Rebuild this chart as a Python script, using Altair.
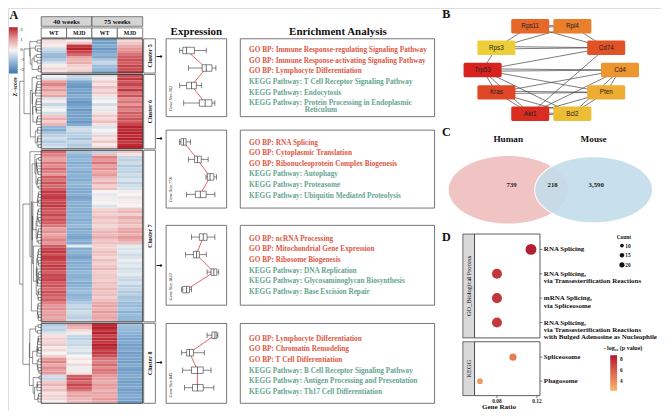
import altair as alt
import numpy as np
import pandas as pd

# ============================ DATA ============================
CONDITIONS = ["WT 40 weeks", "MJD 40 weeks", "WT 75 weeks", "MJD 75 weeks"]
AGES = ["40 weeks", "75 weeks"]
GENOTYPES = ["WT", "MJD", "WT", "MJD"]
CLUSTER_NAMES = ["Cluster 5", "Cluster 6", "Cluster 7", "Cluster 8"]
GENE_SIZES = [362, 778, 1823, 845]
Z_TICKS = [2, 1, 0, -1, -2]

# heatmap z-scores, one list per cluster and column (WT40, MJD40, WT75, MJD75)
c5_wt40 = [0.3, 0.2, 0.1, -0.4, -0.6, -0.9, -1.0, -0.7, -0.3, 0.1, 0.3, 0.2]
c5_mjd40 = [0.1, 0.5, 1.8, 2.0, 1.7, 1.4, 0.9, 0.7, 0.8, 0.4, 0.3, 0.5]
c5_wt75 = [-1.3, -1.4, -1.2, -1.5, -1.3, -1.1, -1.2, -0.7, -0.5, -0.9, -1.0, -1.2]
c5_mjd75 = [0.3, 0.5, 0.8, 1.0, 1.1, 1.3, 1.5, 1.6, 1.5, 1.7, 1.6, 1.8]

c6_wt40 = [0.0, -0.3, 0.9, 1.2, 0.8, 1.0, 0.6, 0.9, -0.3, 0.1, -0.5, -0.2, 0.0,
           -0.4, 0.5, 0.8, 0.4, 0.7, -1.0, -1.2, -0.8, -0.6, -0.4, -0.7, -0.5, -0.3]
c6_mjd40 = [-0.5, -0.6, -1.2, -1.4, -1.5, -1.3, -1.4, -1.2, -1.3, -1.5, -1.4, -1.2, -1.5,
            -1.3, -1.4, -1.3, -1.5, -1.2, -0.5, -0.4, -0.6, -0.6, -0.8, -0.5, -0.7, -0.6]
c6_wt75 = [-0.3, 0.1, 0.4, 0.2, 0.6, 0.3, 0.5, 0.2, -0.2, 0.0, -0.4, 0.1, -0.2,
           0.2, 0.5, 0.3, 0.6, 0.2, -0.3, 0.0, -0.2, 0.4, 0.2, 0.5, 0.1, 0.3]
c6_mjd75 = [1.6, 1.8, 1.5, 1.7, 1.4, 1.8, 1.3, 1.6, 1.1, 1.3, 1.0, 1.4, 1.2,
            1.5, 1.4, 1.6, 1.5, 1.7, 2.0, 1.9, 2.0, 1.9, 2.0, 1.8, 1.9, 2.0]

c7_wt40 = [1.4, 1.2, 1.0, 0.9, 1.3, 1.1, 1.4, 1.2, 1.0, 1.5, 1.3, 1.6, 1.4, 1.5,
           1.8, 1.7, 1.8, 1.6, 1.7, 1.8, 1.6, 1.5, 1.7, 1.4, 1.6, 1.5, 1.3,
           0.9, 1.1, 0.8, 1.0, 1.2, 1.0, 1.5, 1.7, 1.8, 1.6, 1.8, 1.7, 1.6, 1.8, 1.7, 1.5, 1.7,
           1.6, 1.7, 1.5, 1.6, 1.4, 1.6, 1.5, 1.3, 1.5, 1.2, 1.0, 1.1, 0.9, 1.0, 0.8, 0.9]
c7_mjd40 = [-0.8, -1.0, -1.1, -1.0, -1.2, -1.1, -1.0, -1.2, -1.1, -1.1, -1.2, -1.0, -1.1, -1.2,
            -1.2, -1.1, -1.3, -1.2, -1.1, -1.2, -1.1, -1.2, -1.1, -1.0, -1.2, -1.1, -1.0,
            -1.2, -1.1, -1.2, -1.3, -1.1, -1.2, -0.2, -1.2, -1.1, -1.2, -1.3, -1.1, -1.2, -1.1, -1.2, -1.0, -1.1,
            -1.1, -1.0, -1.2, -1.1, -1.0, -0.9, -1.1, -1.0, -0.9, -0.7, -0.5, -0.6, -0.4, -0.5, -0.6, -0.4]
c7_wt75 = [-0.6, 0.6, 1.2, 1.0, 1.3, 0.9, 1.1, 0.8, 1.0, 0.7, 0.5, 0.8, 0.4, 0.6,
           0.0, -0.2, 0.1, -0.1, 0.0, -0.3, 0.3, 0.5, 0.4, 0.6, 0.4, 0.5, 0.3,
           0.5, 0.7, 0.6, 0.8, 0.5, 0.6, 0.4, 0.4, 0.6, 0.5, 0.3, 0.6, 0.4, 0.5, 0.7, 0.4, 0.5,
           0.5, 0.4, 0.6, 0.5, 0.7, 0.5, 0.6, 0.4, 0.6, 0.8, 0.9, 0.7, 1.0, 0.8, 0.9, 0.7]
c7_mjd75 = [0.5, 0.2, -0.5, -0.6, -0.4, -0.7, -0.5, -0.6, -0.4, -0.5, -0.3, -0.6, -0.4, -0.3,
            0.1, 0.0, 0.2, -0.1, 0.1, 0.0, 0.5, 0.7, 0.4, 0.8, 0.6, 0.7, 0.5,
            0.8, 0.9, 0.7, 1.0, 0.8, 0.6, -0.2, -0.3, -0.2, -0.4, -0.3, -0.1, -0.3, -0.2, -0.4, -0.3, -0.2,
            -0.4, -0.5, -0.3, -0.6, -0.5, -0.7, -0.6, -0.8, -0.7, -0.9, -1.0, -0.8, -1.1, -0.9, -1.0, -1.0]

c8_wt40 = [-0.7, -0.5, -0.6, -0.3, 0.2, 0.4, 0.3, 0.5, 0.1, 0.3, 0.0, 0.4, 1.0, 1.2,
           0.8, 1.1, 0.9, 1.0, -0.4, -0.5, 0.5, 0.7, 0.4, 0.6, 0.2, 0.4, 0.3, 0.1]
c8_mjd40 = [0.9, 0.7, 0.3, 0.1, -0.5, -0.6, -0.4, -0.5, -0.3, -0.2, -0.4, 0.0, 0.2, 0.0,
            0.3, -0.1, 0.1, 0.2, 1.5, 1.6, 1.4, 1.7, 1.5, 1.3, 0.8, 0.9, 0.7, 0.6]
c8_wt75 = [1.9, 2.0, 1.8, 2.0, 1.7, 1.9, 1.8, 2.0, 1.9, 1.7, 1.8, 1.6, 1.3, 1.2,
           1.4, 1.1, 1.3, 1.2, 1.0, 0.9, 0.8, 1.0, 0.9, 0.7, 0.9, 0.8, 1.0, 0.8]
c8_mjd75 = [-0.8, -0.9, -1.0, -1.1, -1.2, -1.3, -1.2, -1.4, -1.3, -1.2, -1.4, -1.3, -1.3, -1.4,
            -1.2, -1.3, -1.4, -1.3, -1.2, -1.3, -1.4, -1.3, -1.2, -1.4, -1.3, -1.2, -1.3, -1.4]

# dendrogram merge heights of the four cluster trees (relative)
DEND_MERGE_56 = 0.80
DEND_MERGE_78 = 0.85
DEND_ROOT = 1.0

# expression boxplots: (min, q1, median, q3, max) per condition
expr_c5 = [(-1.29, -1.06, -0.76, -0.15, 0.76), (-0.60, 0.45, 0.76, 1.21, 1.52),
           (-1.29, -0.76, -0.38, 0.00, 0.38), (-0.98, 0.23, 0.68, 1.21, 1.44)]
expr_c6 = [(-1.30, -1.20, -1.00, -0.80, -0.45), (-0.60, -0.15, 0.08, 0.38, 0.91),
           (0.75, 0.85, 1.06, 1.36, 1.55), (-0.76, -0.08, 0.30, 0.76, 1.44)]
expr_c7 = [(-0.38, 0.23, 0.53, 0.83, 1.44), (-0.83, -0.23, 0.00, 0.23, 0.76),
           (0.83, 1.14, 1.36, 1.59, 1.74), (-1.14, -1.06, -0.76, -0.53, -0.38)]
expr_c8 = [(0.83, 1.21, 1.44, 1.59, 1.67), (-1.14, -0.76, -0.53, -0.23, 0.61),
           (-1.06, -0.38, 0.08, 0.53, 1.14), (-0.91, -0.30, 0.08, 0.53, 1.36)]

enrich_c5 = ["GO BP: Immune Response-regulating Signaling Pathway",
             "GO BP: Immune Response-activating Signaling Pathway",
             "GO BP: Lymphocyte Differentiation",
             "KEGG Pathway: T Cell Receptor Signaling Pathway",
             "KEGG Pathway: Endocytosis",
             "KEGG Pathway: Protein Processing in Endoplasmic\nReticulum"]
enrich_c6 = ["GO BP: RNA Splicing", "GO BP: Cytoplasmic Translation",
             "GO BP: Ribonucleoprotein Complex Biogenesis", "KEGG Pathway: Autophagy",
             "KEGG Pathway: Proteasome", "KEGG Pathway: Ubiquitin Mediated Proteolysis"]
enrich_c7 = ["GO BP: ncRNA Processing", "GO BP: Mitochondrial Gene Expression",
             "GO BP: Ribosome Biogenesis", "KEGG Pathway: DNA Replication",
             "KEGG Pathway: Glycosaminoglycan Biosynthesis", "KEGG Pathway: Base Excision Repair"]
enrich_c8 = ["GO BP: Lymphocyte Differentiation", "GO BP: Chromatin Remodeling",
             "GO BP: T Cell Differentiation", "KEGG Pathway: B Cell Receptor Signaling Pathway",
             "KEGG Pathway: Antigen Processing and Presentation",
             "KEGG Pathway: Th17 Cell Differentiation"]

# PPI network (circular layout coordinates, hub score)
net_nodes = ["Rps11", "Rpl4", "Rps3", "Cd74", "Trp53", "Cd4", "Kras", "Pten", "Akt1", "Bcl2"]
net_x = [-0.30, 0.31, -0.79, 0.80, -0.99, 1.00, -0.79, 0.80, -0.30, 0.31]
net_y = [1.00, 1.00, 0.51, 0.51, 0.00, 0.00, -0.51, -0.51, -1.00, -1.00]
net_score = [56, 46, 12, 66, 100, 38, 72, 28, 92, 20]
net_edges = [("Rps11", "Rpl4"), ("Rps11", "Rps3"), ("Rps3", "Rpl4"), ("Rps11", "Cd74"),
             ("Rpl4", "Cd74"), ("Rps3", "Cd74"), ("Rps3", "Trp53"), ("Trp53", "Cd74"),
             ("Trp53", "Cd4"), ("Trp53", "Pten"), ("Trp53", "Bcl2"), ("Trp53", "Kras"),
             ("Trp53", "Akt1"), ("Cd74", "Akt1"), ("Cd4", "Kras"), ("Cd4", "Pten"),
             ("Cd4", "Bcl2"), ("Cd4", "Akt1"), ("Kras", "Pten"), ("Kras", "Akt1"),
             ("Kras", "Bcl2"), ("Pten", "Akt1"), ("Pten", "Bcl2"), ("Akt1", "Bcl2")]
net_double = [("Rps11", "Rpl4"), ("Rps3", "Cd74"), ("Trp53", "Cd4"), ("Kras", "Pten"), ("Akt1", "Bcl2")]

# Venn
venn_sets = ["Human", "Mouse"]
venn_set_pos = [0.0, 1.0]
venn_counts = [739, 218, 3590]
venn_count_pos = [0.04, 0.52, 1.03]

# dot plot
go_terms = ["RNA Splicing",
            "RNA Splicing,\nvia Transesterification Reactions",
            "mRNA Splicing,\nvia Spliceosome",
            "RNA Splicing,\nvia Transesterification Reactions\nwith Bulged Adenosine as Nucleophile"]
go_ratio = [0.114, 0.080, 0.080, 0.080]
go_count = [21, 18, 18, 18]
go_logp = [8.3, 7.4, 7.4, 7.3]
kegg_terms = ["Spliceosome", "Phagosome"]
kegg_ratio = [0.096, 0.063]
kegg_count = [9, 6]
kegg_logp = [4.6, 3.4]
count_breaks = [10, 15, 20]
logp_breaks = [8, 6, 4]
ratio_breaks = [0.08, 0.12]

# ============================ STYLE / LAYOUT ============================
SERIF = "Liberation Serif"
SANS = "Liberation Sans"
SX = 653 / 669
SY = 403 / 419
FS = 0.97
INK = "#333333"
GO_RED = "#dc5846"
KEGG_GREEN = "#66a58f"
LINE_RED = "#e0403a"
HM_DOMAIN = [-2, -1, 0, 1, 2]
HM_RANGE = ["#3f76ad", "#93b8d8", "#f7f5f3", "#e7999a", "#b8202b"]


def X(v):
    return round(v * SX, 2)


def Y(v):
    return round(v * SY, 2)


def F(s):
    return round(s * FS, 2)


ONE = alt.Data(values=[{"k": 0}])


def lin(domain, rng):
    return alt.Scale(domain=domain, range=rng, nice=False, zero=False)


def box(x0, y0, x1, y1, fill="white", stroke="#444444", sw=0.7, fo=1.0):
    return alt.Chart(ONE).mark_rect(fill=fill, fillOpacity=fo, stroke=stroke, strokeWidth=sw).encode(
        x=alt.value(X(x0)), x2=alt.value(X(x1)), y=alt.value(Y(y0)), y2=alt.value(Y(y1)))


def label(text, x, y, size, weight="bold", font=SERIF, color="#111111", angle=0,
          align="center", style="normal"):
    return alt.Chart(ONE).mark_text(
        text=text, fontSize=F(size), font=font, fontWeight=weight, fontStyle=style,
        color=color, align=align, baseline="middle", angle=angle).encode(
        x=alt.value(X(x)), y=alt.value(Y(y)))


layers = []

# ============================ PANEL A: heatmap ============================
clusters = [
    (CLUSTER_NAMES[0], [c5_wt40, c5_mjd40, c5_wt75, c5_mjd75]),
    (CLUSTER_NAMES[1], [c6_wt40, c6_mjd40, c6_wt75, c6_mjd75]),
    (CLUSTER_NAMES[2], [c7_wt40, c7_mjd40, c7_wt75, c7_mjd75]),
    (CLUSTER_NAMES[3], [c8_wt40, c8_mjd40, c8_wt75, c8_mjd75]),
]


def dendro(mat, ys):
    nodes = [{"y": ys[i], "h": 0.0, "v": mat[i].copy(), "n": 1} for i in range(len(ys))]
    segs = []
    while len(nodes) > 1:
        d = [float(np.linalg.norm(nodes[k]["v"] - nodes[k + 1]["v"])) for k in range(len(nodes) - 1)]
        k = int(np.argmin(d))
        a, b = nodes[k], nodes[k + 1]
        h = max(a["h"], b["h"], d[k]) + 0.05
        segs.append((a["h"], h, a["y"], a["y"]))
        segs.append((b["h"], h, b["y"], b["y"]))
        segs.append((h, h, a["y"], b["y"]))
        n = a["n"] + b["n"]
        nodes[k:k + 2] = [{"y": (a["y"] + b["y"]) / 2, "h": h,
                           "v": (a["v"] * a["n"] + b["v"] * b["n"]) / n, "n": n}]
    return segs, nodes[0]


GAP = 0.5
hm_rows, cl_rows, roots, raw_segs = [], [], [], []
offset = 0.0
for name, cols in clusters:
    n = len(cols[0])
    mat = np.array(cols, dtype=float).T
    for i in range(n):
        for j in range(4):
            hm_rows.append({"r0": offset + i, "r1": offset + i + 1, "c0": j, "c1": j + 1, "z": cols[j][i]})
    segs, root = dendro(mat, [offset + i + 0.5 for i in range(n)])
    raw_segs.append(segs)
    roots.append(root)
    cl_rows.append({"name": name, "r0": offset, "r1": offset + n, "mid": offset + n / 2, "c0": 0, "c1": 4})
    offset += n + GAP
TOTAL = offset - GAP

hmax = max(r["h"] for r in roots)
s = 0.55 / hmax
dseg = []
for segs in raw_segs:
    for h0, h1, y0, y1 in segs:
        dseg.append({"h0": h0 * s, "h1": h1 * s, "y0": y0, "y1": y1})
nroots = [{"y": r["y"], "h": r["h"] * s} for r in roots]


def join(a, b, h):
    dseg.append({"h0": a["h"], "h1": h, "y0": a["y"], "y1": a["y"]})
    dseg.append({"h0": b["h"], "h1": h, "y0": b["y"], "y1": b["y"]})
    dseg.append({"h0": h, "h1": h, "y0": a["y"], "y1": b["y"]})
    return {"y": (a["y"] + b["y"]) / 2, "h": h}


n56 = join(nroots[0], nroots[1], DEND_MERGE_56)
n78 = join(nroots[2], nroots[3], DEND_MERGE_78)
join(n56, n78, DEND_ROOT)

hm_df = pd.DataFrame(hm_rows)
cl_df = pd.DataFrame(cl_rows)
dend_df = pd.DataFrame(dseg)
age_df = pd.DataFrame({"label": AGES, "c0": [2 * i for i in range(len(AGES))],
                       "c1": [2 * i + 2 for i in range(len(AGES))]})
geno_df = pd.DataFrame({"label": GENOTYPES, "c0": list(range(4)), "c1": list(range(1, 5))})

hx = lin([0, 4], [X(34), X(138)])
hy = lin([0, TOTAL], [Y(32), Y(411)])
HXq = lambda f: alt.X(f, scale=hx, axis=None)
HYq = lambda f: alt.Y(f, scale=hy, axis=None)

heat = alt.Chart(hm_df).mark_rect().encode(
    x=HXq("c0:Q"), x2="c1:Q", y=HYq("r0:Q"), y2="r1:Q",
    color=alt.Color("z:Q", scale=alt.Scale(domain=HM_DOMAIN, range=HM_RANGE, interpolate="rgb"),
                    legend=None))
cl_border = alt.Chart(cl_df).mark_rect(fill="white", fillOpacity=0, stroke="#222222", strokeWidth=0.8).encode(
    x=HXq("c0:Q"), x2="c1:Q", y=HYq("r0:Q"), y2="r1:Q")
cl_box = alt.Chart(cl_df).mark_rect(fill="white", stroke="#444444", strokeWidth=0.7).encode(
    x=alt.value(X(139)), x2=alt.value(X(151)), y=HYq("r0:Q"), y2="r1:Q")
cl_txt = alt.Chart(cl_df).mark_text(angle=270, font=SERIF, fontWeight="bold", fontSize=F(6.2),
                                    color="#111111", baseline="middle").encode(
    x=alt.value(X(145)), y=HYq("mid:Q"), text="name:N")
age_rect = alt.Chart(age_df).mark_rect(fill="#d4d4d4", stroke=INK, strokeWidth=0.6).encode(
    x=HXq("c0:Q"), x2="c1:Q", y=alt.value(Y(9)), y2=alt.value(Y(19)))
age_txt = alt.Chart(age_df).transform_calculate(mid="(datum.c0 + datum.c1) / 2").mark_text(
    font=SERIF, fontWeight="bold", fontSize=F(7.2), color="#111111", baseline="middle").encode(
    x=HXq("mid:Q"), y=alt.value(Y(14.2)), text="label:N")
geno_rect = alt.Chart(geno_df).mark_rect(fill="white", stroke=INK, strokeWidth=0.6).encode(
    x=HXq("c0:Q"), x2="c1:Q", y=alt.value(Y(20.7)), y2=alt.value(Y(31)))
geno_txt = alt.Chart(geno_df).transform_calculate(mid="(datum.c0 + datum.c1) / 2").mark_text(
    font=SERIF, fontWeight="bold", fontSize=F(6), color="#111111", baseline="middle").encode(
    x=HXq("mid:Q"), y=alt.value(Y(26)), text="label:N")
layers.append(alt.layer(heat, cl_border, cl_box, cl_txt, age_rect, age_txt, geno_rect, geno_txt))

dend = alt.Chart(dend_df).mark_rule(color="#111111", strokeWidth=0.45).encode(
    x=alt.X("h0:Q", scale=lin([0, 1], [X(34), X(12)]), axis=None), x2="h1:Q",
    y=HYq("y0:Q"), y2="y1:Q")
layers.append(dend)

# heatmap legend
grad = alt.LinearGradient(
    gradient="linear", x1=0, x2=0, y1=0, y2=1,
    stops=[alt.GradientStop(color=HM_RANGE[4 - i], offset=i / 4) for i in range(5)])
layers.append(alt.Chart(ONE).mark_rect(fill=grad).encode(
    x=alt.value(X(1)), x2=alt.value(X(10)), y=alt.value(Y(20)), y2=alt.value(Y(68))))
layers.append(alt.Chart(pd.DataFrame({"v": Z_TICKS})).mark_text(
    font=SERIF, fontSize=F(5), color="#222222", align="left", baseline="middle").encode(
    x=alt.value(X(12.5)), y=alt.Y("v:Q", scale=lin([-2, 2], [Y(64), Y(23)]), axis=None),
    text="v:N"))
layers.append(label("Z\u2212score", 7.5, 82, 5.8, angle=270))
layers.append(label("A", 6, 7.5, 12.5))

# ============================ Expression panels ============================
TOPS = [32, 127, 226, 328]
BOTS = [113, 208, 309, 411]
ARROW_Y = [51, 136, 268, 369]
exs = lin([-2.2, 2.2], [X(164), X(222)])


def expr_panel(stats, top, bot, gsize):
    df = pd.DataFrame(stats, columns=["lo", "q1", "med", "q3", "hi"])
    df["i"] = list(range(len(df)))
    df["cond"] = CONDITIONS
    ys = lin([0, 3], [Y(top + 7), Y(top + 72)])
    base = alt.Chart(df)
    xq = lambda f: alt.X(f + ":Q", scale=exs, axis=None)
    yq = alt.Y("i:Q", scale=ys, axis=None)
    frame = box(162, top, 224, bot, stroke="#555555", sw=0.8)
    line = base.mark_line(color=LINE_RED, strokeWidth=0.8).encode(x=xq("med"), y=yq, order="i:Q")
    whisk = base.mark_rule(color=INK, strokeWidth=0.6).encode(x=xq("lo"), x2="hi:Q", y=yq)
    cap_lo = base.mark_tick(orient="vertical", size=5.5, thickness=0.6, color=INK, opacity=1).encode(
        x=xq("lo"), y=yq)
    cap_hi = base.mark_tick(orient="vertical", size=5.5, thickness=0.6, color=INK, opacity=1).encode(
        x=xq("hi"), y=yq)
    bx = base.mark_bar(orient="horizontal", size=6.5, fill="white", stroke=INK, strokeWidth=0.6).encode(
        x=xq("q1"), x2="q3:Q", y=yq)
    md = base.mark_tick(orient="vertical", size=6.5, thickness=0.7, color=INK, opacity=1).encode(
        x=xq("med"), y=yq)
    gs = label(f"Gene Size {gsize}", 166.5, bot - 19, 4.5, weight="normal", style="italic", angle=270)
    return alt.layer(frame, line, whisk, cap_lo, cap_hi, bx, md, gs)


for stats, top, bot, g, ay in zip([expr_c5, expr_c6, expr_c7, expr_c8], TOPS, BOTS, GENE_SIZES, ARROW_Y):
    layers.append(expr_panel(stats, top, bot, g))
    layers.append(label("\u2192", 155, ay, 8, font="DejaVu Sans"))
layers.append(label("Expression", 193, 25, 11.3))

# ============================ Enrichment panels ============================
FIRST_LINE = [44, 140, 240, 344]


def enrich_panel(items, top, bot, first):
    rows = []
    for k, it in enumerate(items):
        kind = "GO" if it.startswith("GO") else "KEGG"
        parts = it.split("\n")
        rows.append({"slot": k, "text": parts[0], "kind": kind, "ind": 0})
        for p in parts[1:]:
            rows.append({"slot": k + 0.64, "text": p, "kind": kind, "ind": 1})
    df = pd.DataFrame(rows)
    txt = alt.Chart(df).mark_text(align="left", baseline="middle", font=SERIF, fontWeight="bold",
                                  fontSize=F(7.5)).encode(
        x=alt.X("ind:Q", scale=lin([0, 1], [X(247), X(304)]), axis=None),
        y=alt.Y("slot:Q", scale=lin([0, 5], [Y(first), Y(first + 55)]), axis=None),
        text="text:N",
        color=alt.Color("kind:N", scale=alt.Scale(domain=["GO", "KEGG"], range=[GO_RED, KEGG_GREEN]),
                        legend=None))
    return alt.layer(box(238, top, 437, bot, stroke="#555555", sw=0.8), txt)


for items, top, bot, first in zip([enrich_c5, enrich_c6, enrich_c7, enrich_c8], TOPS, BOTS, FIRST_LINE):
    layers.append(enrich_panel(items, top, bot, first))
layers.append(label("Enrichment Analysis", 338, 25, 11.3))

# ============================ PANEL B: network ============================
pos = dict(zip(net_nodes, zip(net_x, net_y)))
dbl = set(net_double)
edge_df = pd.DataFrame([{"x0": pos[a][0], "y0": pos[a][1], "x1": pos[b][0], "y1": pos[b][1],
                         "dbl": (a, b) in dbl} for a, b in net_edges])
node_df = pd.DataFrame({"name": net_nodes, "nx": net_x, "ny": net_y, "score": net_score})
nxs = lin([-1, 1], [X(485.5), X(627)])
nys = lin([-1, 1], [Y(110), Y(19)])


def edge_layer(df, off):
    return alt.Chart(df).mark_rule(color="#444444", strokeWidth=0.7, yOffset=off).encode(
        x=alt.X("x0:Q", scale=nxs, axis=None), x2="x1:Q",
        y=alt.Y("y0:Q", scale=nys, axis=None), y2="y1:Q")


RRECT = ("M-0.92,-0.379L0.92,-0.379Q1,-0.379,1,-0.299L1,0.299Q1,0.379,0.92,0.379"
         "L-0.92,0.379Q-1,0.379,-1,0.299L-1,-0.299Q-1,-0.379,-0.92,-0.379Z")
nodes = alt.Chart(node_df).mark_point(shape=RRECT, size=1444, filled=True, opacity=1, strokeWidth=0).encode(
    x=alt.X("nx:Q", scale=nxs, axis=None), y=alt.Y("ny:Q", scale=nys, axis=None),
    color=alt.Color("score:Q", scale=alt.Scale(domain=[10, 32, 50, 70, 100],
                                               range=["#ecd23a", "#efa530", "#e8742c", "#e04a26", "#d7221f"],
                                               interpolate="rgb"), legend=None))
node_txt = alt.Chart(node_df).mark_text(font=SANS, fontSize=F(6.5), color="#222222", baseline="middle").encode(
    x=alt.X("nx:Q", scale=nxs, axis=None), y=alt.Y("ny:Q", scale=nys, axis=None), text="name:N")
layers.append(alt.layer(edge_layer(edge_df[~edge_df.dbl], 0),
                        edge_layer(edge_df[edge_df.dbl], -1.2),
                        edge_layer(edge_df[edge_df.dbl], 1.2),
                        nodes, node_txt))
layers.append(label("B", 449, 6.5, 12.5))

# ============================ PANEL C: Venn ============================
# each set is drawn as an ellipse outline (half-width in set-position units, unit half-height)
VENN_RX = 0.69
t = np.linspace(0.0, np.pi, 91)
ell_rows = []
for nm, cx in zip(venn_sets, venn_set_pos):
    for tt in t:
        ell_rows.append({"set": nm, "ex": cx - VENN_RX * np.cos(tt), "top": np.sin(tt), "bot": -np.sin(tt)})
ell_df = pd.DataFrame(ell_rows)
vxs = lin([0, 1], [X(512.5), X(600)])
vys = lin([-1, 1], [Y(223.5), Y(154.5)])


def ellipse(nm, color, op, stroke):
    return alt.Chart(ell_df[ell_df.set == nm]).mark_area(
        color=color, opacity=op, stroke=stroke, strokeWidth=1.2, line=False).encode(
        x=alt.X("ex:Q", scale=vxs, axis=None),
        y=alt.Y("top:Q", scale=vys, axis=None, stack=None), y2="bot:Q")


venn_df = pd.DataFrame({"set": venn_sets, "pos": venn_set_pos})
set_txt = alt.Chart(venn_df).mark_text(font=SERIF, fontWeight="bold", fontSize=F(9.5), color="#111111",
                                       baseline="middle").encode(
    x=alt.X("pos:Q", scale=vxs, axis=None), y=alt.value(Y(136)), text="set:N")
cnt_df = pd.DataFrame({"n": [f"{v:,}" for v in venn_counts], "pos": venn_count_pos})
cnt_txt = alt.Chart(cnt_df).mark_text(font=SERIF, fontWeight="bold", fontSize=F(7), color="#222222",
                                      baseline="middle").encode(
    x=alt.X("pos:Q", scale=vxs, axis=None), y=alt.value(Y(184)), text="n:N")
layers.append(alt.layer(ellipse("Human", "#f1c4c4", 1.0, "#f1c4c4"),
                        ellipse("Mouse", "#c3ddea", 0.9, "white"),
                        set_txt, cnt_txt))
layers.append(label("C", 449, 129, 12.5))

# ============================ PANEL D: dot plot ============================
dxs = lin([0.0576, 0.123], [X(478), X(545)])
dcol = alt.Scale(domain=[2.2, 5.4, 8.6], range=["#f7b56e", "#de6a4e", "#b0182f"], interpolate="rgb")
dsize = lin([0, 21], [0, 118])

layers.append(box(466, 235, 478, 343, fill="#d9d9d9", stroke=INK, sw=0.7))
layers.append(box(466, 347, 478, 403, fill="#d9d9d9", stroke=INK, sw=0.7))
layers.append(box(478, 235, 545, 343, stroke=INK, sw=0.8))
layers.append(box(478, 347, 545, 403, stroke=INK, sw=0.8))
layers.append(label("GO_Biological Process", 472, 289, 6.6, weight="normal", angle=270))
layers.append(label("KEGG", 472, 375, 6.6, weight="normal", angle=270))


def dot_facet(terms, ratio, count, logp, y0, y1):
    df = pd.DataFrame({"term": terms, "ratio": ratio, "count": count, "logp": logp,
                       "i": list(range(len(terms)))})
    ys = lin([0, len(terms) - 1], [Y(y0), Y(y1)])
    yq = alt.Y("i:Q", scale=ys, axis=None)
    dots = alt.Chart(df).mark_circle(opacity=1).encode(
        x=alt.X("ratio:Q", scale=dxs, axis=None), y=yq,
        size=alt.Size("count:Q", scale=dsize, legend=None),
        color=alt.Color("logp:Q", scale=dcol, legend=None))
    ticks = alt.Chart(df).mark_rule(color=INK, strokeWidth=0.6).encode(
        x=alt.value(X(545)), x2=alt.value(X(547.5)), y=yq)
    txt = alt.Chart(df).mark_text(align="left", baseline="middle", font=SERIF, fontWeight="bold",
                                  fontSize=F(7.2), lineBreak="\n", lineHeight=7.4, color="#111111").encode(
        x=alt.value(X(549)), y=yq, text="term:N")
    return alt.layer(dots, ticks, txt)


layers.append(dot_facet(go_terms, go_ratio, go_count, go_logp, 251, 327))
layers.append(dot_facet(kegg_terms, kegg_ratio, kegg_count, kegg_logp, 363, 388))

rb_df = pd.DataFrame({"r": ratio_breaks, "lab": [f"{v:.2f}" for v in ratio_breaks]})
layers.append(alt.layer(
    alt.Chart(rb_df).mark_rule(color=INK, strokeWidth=0.6).encode(
        x=alt.X("r:Q", scale=dxs, axis=None), y=alt.value(Y(403)), y2=alt.value(Y(405.5))),
    alt.Chart(rb_df).mark_text(font=SERIF, fontWeight="bold", fontSize=F(5.6), color="#222222",
                               baseline="middle").encode(
        x=alt.X("r:Q", scale=dxs, axis=None), y=alt.value(Y(408.5)), text="lab:N")))
layers.append(label("Gene Ratio", 503, 415, 7.3))

# count legend
cb_df = pd.DataFrame({"c": count_breaks, "i": list(range(len(count_breaks)))})
cys = lin([0, 2], [Y(247), Y(267)])
layers.append(alt.layer(
    alt.Chart(cb_df).mark_circle(color="#111111", opacity=1).encode(
        x=alt.value(X(629)), y=alt.Y("i:Q", scale=cys, axis=None),
        size=alt.Size("c:Q", scale=lin([0, 20], [0, 27]), legend=None)),
    alt.Chart(cb_df).mark_text(font=SERIF, fontWeight="bold", fontSize=F(5.5), align="left",
                               baseline="middle", color="#111111").encode(
        x=alt.value(X(632.5)), y=alt.Y("i:Q", scale=cys, axis=None), text="c:N")))
layers.append(label("Count", 631, 238, 5.6))

# colour legend
dgrad = alt.LinearGradient(
    gradient="linear", x1=0, x2=0, y1=0, y2=1,
    stops=[alt.GradientStop(color="#b0182f", offset=0), alt.GradientStop(color="#de6a4e", offset=0.5),
           alt.GradientStop(color="#f7b56e", offset=1)])
layers.append(alt.Chart(ONE).mark_rect(fill=dgrad).encode(
    x=alt.value(X(617)), x2=alt.value(X(624)), y=alt.value(Y(361)), y2=alt.value(Y(398))))
layers.append(alt.Chart(pd.DataFrame({"v": logp_breaks})).mark_text(
    font=SERIF, fontWeight="bold", fontSize=F(5.5), align="left", baseline="middle", color="#111111").encode(
    x=alt.value(X(627)), y=alt.Y("v:Q", scale=lin([2.2, 8.6], [Y(398), Y(361)]), axis=None), text="v:N"))
layers.append(label("- log\u2081\u2080 (p value)", 630, 353, 6.2))
layers.append(label("D", 449, 238, 12.5))

# ============================ assemble ============================
chart = alt.layer(*layers).resolve_scale(
    x="independent", y="independent", color="independent", size="independent"
).properties(width=653, height=403, padding=0, autosize="none").configure_view(stroke=None).configure(
    background="white")

chart.save("out.html", embed_options={"renderer": "svg", "actions": False})
